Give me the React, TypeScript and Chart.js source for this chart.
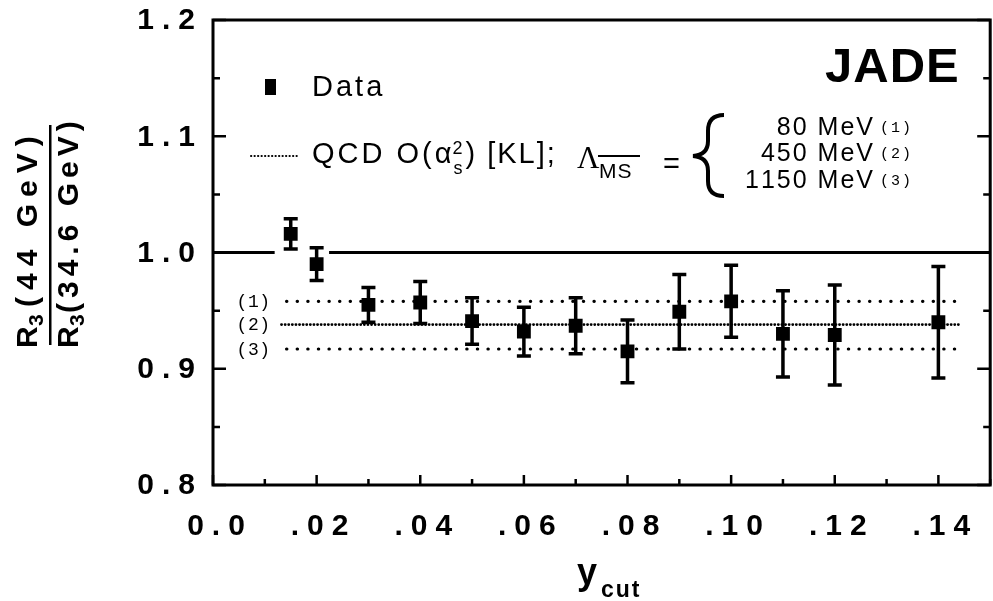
import React, { useEffect, useRef } from 'react';
import { Chart, registerables } from 'chart.js';

Chart.register(...registerables);

// ---- data ----
const yCut = [0.015, 0.02, 0.03, 0.04, 0.05, 0.06, 0.07, 0.08, 0.09, 0.10, 0.11, 0.12, 0.14];
const ratio = [1.016, 0.990, 0.955, 0.957, 0.941, 0.932, 0.937, 0.915, 0.949, 0.958, 0.930, 0.929, 0.940];
const ratioErr = [0.013, 0.014, 0.015, 0.018, 0.020, 0.021, 0.024, 0.027, 0.032, 0.031, 0.037, 0.043, 0.048];

const referenceLevel = 1.0;
const referenceSegments = [[0, 0.0119], [0.0224, 0.15]];

const predictionTags = ['(1)', '(2)', '(3)'];
const predictionValues = [0.958, 0.938, 0.917];
const predictionRanges = [[0.0142, 0.1445], [0.0132, 0.1445], [0.0142, 0.1445]];
const lambdaLabels = ['80 MeV', '450 MeV', '1150 MeV'];

const xTickValues = [0, 0.02, 0.04, 0.06, 0.08, 0.10, 0.12, 0.14];
const xTickLabels = ['0.0', '.02', '.04', '.06', '.08', '.10', '.12', '.14'];
const yTickValues = [0.8, 0.9, 1.0, 1.1, 1.2];
const yTickLabels = ['0.8', '0.9', '1.0', '1.1', '1.2'];

const SANS = '"Liberation Sans", Arial, Helvetica, sans-serif';
const MONO = '"Liberation Mono", "DejaVu Sans Mono", monospace';

function spaced(ctx: CanvasRenderingContext2D, text: string, x: number, y: number, spacing: number, align: 'left' | 'right' | 'center' = 'left') {
  const chars = Array.from(text);
  const widths = chars.map((c) => ctx.measureText(c).width);
  const total = widths.reduce((a, b) => a + b, 0) + spacing * (chars.length - 1);
  let sx = align === 'left' ? x : align === 'right' ? x - total : x - total / 2;
  const prevAlign = ctx.textAlign;
  ctx.textAlign = 'left';
  chars.forEach((c, i) => {
    ctx.fillText(c, sx, y);
    sx += widths[i] + spacing;
  });
  ctx.textAlign = prevAlign;
  return total;
}

const decorPlugin = {
  id: 'decor',
  beforeDraw(chart: any) {
    const { ctx } = chart;
    ctx.save();
    ctx.fillStyle = '#fff';
    ctx.fillRect(0, 0, chart.width, chart.height);
    ctx.restore();
  },
  beforeDatasetsDraw(chart: any) {
    const { ctx } = chart;
    const xs = chart.scales.x;
    const ys = chart.scales.y;
    ctx.save();
    ctx.strokeStyle = '#000';
    ctx.lineWidth = 3.5;
    ctx.lineCap = 'butt';
    yCut.forEach((xv, i) => {
      const px = xs.getPixelForValue(xv);
      const top = ys.getPixelForValue(ratio[i] + ratioErr[i]);
      const bot = ys.getPixelForValue(ratio[i] - ratioErr[i]);
      ctx.beginPath();
      ctx.moveTo(px, top);
      ctx.lineTo(px, bot);
      ctx.moveTo(px - 7, top);
      ctx.lineTo(px + 7, top);
      ctx.moveTo(px - 7, bot);
      ctx.lineTo(px + 7, bot);
      ctx.stroke();
    });
    ctx.restore();
  },
  afterDatasetsDraw(chart: any) {
    const { ctx, chartArea } = chart;
    const xs = chart.scales.x;
    const ys = chart.scales.y;
    const { left, right, top, bottom } = chartArea;
    ctx.save();
    ctx.strokeStyle = '#000';
    ctx.fillStyle = '#000';
    // frame
    ctx.lineWidth = 3;
    ctx.strokeRect(left, top, right - left, bottom - top);
    // y ticks (left + right, inward)
    ctx.lineWidth = 2.5;
    ys.ticks.forEach((t: any) => {
      const py = ys.getPixelForValue(t.value);
      const major = Math.round(t.value * 100) % 10 === 0;
      const len = major ? 13 : 7;
      ctx.beginPath();
      ctx.moveTo(left, py);
      ctx.lineTo(left + len, py);
      ctx.moveTo(right, py);
      ctx.lineTo(right - len, py);
      ctx.stroke();
    });
    // x ticks (bottom, inward)
    xs.ticks.forEach((t: any) => {
      const px = xs.getPixelForValue(t.value);
      const major = Math.round(t.value * 100) % 2 === 0;
      const len = major ? 10 : 6;
      ctx.beginPath();
      ctx.moveTo(px, bottom);
      ctx.lineTo(px, bottom - len);
      ctx.stroke();
    });

    // tick labels
    ctx.font = `bold 30px ${SANS}`;
    ctx.textBaseline = 'middle';
    yTickValues.forEach((v, i) => {
      spaced(ctx, yTickLabels[i], 195, ys.getPixelForValue(v) + 1, 8, 'right');
    });
    ctx.textBaseline = 'alphabetic';
    xTickValues.forEach((v, i) => {
      spaced(ctx, xTickLabels[i], xs.getPixelForValue(v) + 3, 535, 8, 'center');
    });

    // x title
    ctx.font = `bold 36px ${SANS}`;
    spaced(ctx, 'y', 577, 584, 0, 'left');
    ctx.font = `bold 23px ${SANS}`;
    spaced(ctx, 'cut', 601, 597, 2, 'left');

    // y title (rotated fraction)
    ctx.save();
    ctx.translate(0, 236);
    ctx.rotate(-Math.PI / 2);
    ctx.font = `bold 30px ${SANS}`;
    spaced(ctx, 'R', -112, 37, 0, 'left');
    ctx.font = `bold 21px ${SANS}`;
    spaced(ctx, '3', -90, 43, 0, 'left');
    ctx.font = `bold 30px ${SANS}`;
    spaced(ctx, '(44 GeV)', -71, 37, 7, 'left');
    spaced(ctx, 'R', -112, 78, 0, 'left');
    ctx.font = `bold 21px ${SANS}`;
    spaced(ctx, '3', -90, 84, 0, 'left');
    ctx.font = `bold 30px ${SANS}`;
    spaced(ctx, '(34.6 GeV)', -77, 78, 5, 'left');
    ctx.fillRect(-109, 49, 220, 2.5);
    ctx.restore();

    // prediction tags
    ctx.font = `18px ${MONO}`;
    ctx.textBaseline = 'middle';
    predictionValues.forEach((v, i) => {
      spaced(ctx, predictionTags[i], 270, ys.getPixelForValue(v) + 1, 0.5, 'right');
    });
    ctx.textBaseline = 'alphabetic';

    // legend: Data
    ctx.fillRect(265, 79, 11, 16);
    ctx.font = `29px ${SANS}`;
    spaced(ctx, 'Data', 312, 96, 3, 'left');

    // legend: QCD line sample
    ctx.lineWidth = 2;
    ctx.lineCap = 'round';
    ctx.setLineDash([0.3, 3.2]);
    ctx.beginPath();
    ctx.moveTo(251, 156);
    ctx.lineTo(298, 156);
    ctx.stroke();
    ctx.setLineDash([]);
    ctx.lineCap = 'butt';

    ctx.font = `29px ${SANS}`;
    let cx = 312;
    cx += spaced(ctx, 'QCD O(', cx, 163, 3, 'left') + 3;
    cx += spaced(ctx, 'α', cx, 163, 0, 'left') + 1;
    ctx.font = `18px ${SANS}`;
    spaced(ctx, '2', cx, 154, 0, 'left');
    spaced(ctx, 's', cx + 1, 174, 0, 'left');
    cx += 13;
    ctx.font = `29px ${SANS}`;
    cx += spaced(ctx, ')', cx, 163, 0, 'left') + 12;
    spaced(ctx, '[KL];', cx, 163, 2, 'left');

    ctx.font = `31px "Liberation Serif", "DejaVu Serif", serif`;
    spaced(ctx, 'Λ', 577, 168, 0, 'left');
    ctx.font = `21px ${SANS}`;
    spaced(ctx, 'MS', 599, 178, 1, 'left');
    ctx.fillRect(598, 155, 42, 2);
    ctx.font = `29px ${SANS}`;
    spaced(ctx, '=', 663, 173, 0, 'left');

    // brace
    ctx.lineWidth = 4;
    ctx.beginPath();
    ctx.moveTo(724, 115);
    ctx.quadraticCurveTo(708, 115, 708, 131);
    ctx.lineTo(708, 141);
    ctx.quadraticCurveTo(708, 155, 693, 156);
    ctx.quadraticCurveTo(708, 157, 708, 171);
    ctx.lineTo(708, 181);
    ctx.quadraticCurveTo(708, 196, 724, 196);
    ctx.stroke();

    ctx.font = `25px ${SANS}`;
    const lb = [135, 161, 188];
    lambdaLabels.forEach((t, i) => spaced(ctx, t, 873, lb[i], 2, 'right'));
    ctx.font = `15px ${MONO}`;
    const tb = [132, 158, 185];
    predictionTags.forEach((t, i) => spaced(ctx, t, 880, tb[i], 2, 'left'));

    // JADE
    ctx.font = `bold 49px ${SANS}`;
    spaced(ctx, 'JADE', 825, 82, 1, 'left');

    ctx.restore();
  },
};

export default function App() {
  const ref = useRef<HTMLCanvasElement | null>(null);
  useEffect(() => {
    if (!ref.current) return;
    const datasets: any[] = [];
    referenceSegments.forEach((seg) => {
      datasets.push({
        data: seg.map((x) => ({ x, y: referenceLevel })),
        showLine: true,
        borderColor: '#000',
        borderWidth: 3,
        pointRadius: 0,
      });
    });
    predictionValues.forEach((v, i) => {
      const dense = i === 1;
      datasets.push({
        data: predictionRanges[i].map((x) => ({ x, y: v })),
        showLine: true,
        borderColor: '#000',
        borderWidth: dense ? 2.6 : 3.2,
        borderCapStyle: 'round',
        borderDash: dense ? [0.3, 3.3] : [0.3, 10.3],
        pointRadius: 0,
      });
    });
    datasets.push({
      data: yCut.map((x, i) => ({ x, y: ratio[i] })),
      pointStyle: 'rect',
      pointRadius: 9.8,
      backgroundColor: '#000',
      borderWidth: 0,
    });

    const chart = new Chart(ref.current, {
      type: 'scatter',
      data: { datasets },
      options: {
        animation: false,
        responsive: false,
        maintainAspectRatio: false,
        events: [],
        layout: { padding: { top: 20, right: 3, left: 0, bottom: 0 } },
        plugins: { legend: { display: false }, tooltip: { enabled: false } },
        scales: {
          x: {
            type: 'linear',
            min: 0,
            max: 0.15,
            ticks: { stepSize: 0.01, display: false },
            grid: { display: false },
            border: { display: false },
            afterFit: (s: any) => { s.height = 116; },
          },
          y: {
            type: 'linear',
            min: 0.8,
            max: 1.2,
            ticks: { stepSize: 0.05, display: false },
            grid: { display: false },
            border: { display: false },
            afterFit: (s: any) => { s.width = 213; },
          },
        },
      } as any,
      plugins: [decorPlugin],
    });
    return () => chart.destroy();
  }, []);

  return (
    <div style={{ position: 'fixed', left: 0, top: 0, width: 993, height: 601, overflow: 'hidden', background: '#fff' }}>
      <canvas ref={ref} width={1000} height={601} style={{ display: 'block' }} />
    </div>
  );
}
